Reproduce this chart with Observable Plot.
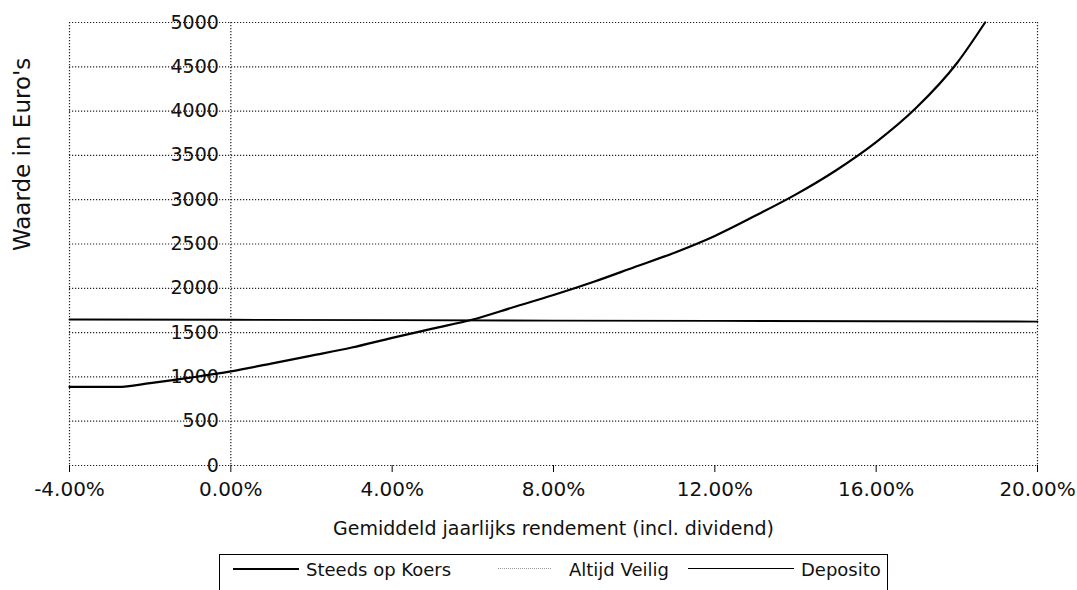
<!DOCTYPE html>
<html><head><meta charset="utf-8">
<script src="https://cdn.jsdelivr.net/npm/d3@7"></script>
<script src="https://cdn.jsdelivr.net/npm/@observablehq/plot@0.6"></script>
<style>
body{margin:0;background:#fff;font-family:"DejaVu Sans",sans-serif;}
#wrap{position:relative;width:1077px;height:590px;overflow:hidden;background:#fff;}
#legend{position:absolute;left:219px;top:554px;width:669px;height:50px;border:1.5px solid #000;box-sizing:border-box;font-size:18px;color:#111;}
.sample{position:absolute;top:13px;height:0;}
.label{position:absolute;top:5px;white-space:nowrap;line-height:20px;}
</style></head><body>
<div id="wrap"><div id="chart"></div><div id="legend"></div></div>
<script>
// Steeds op Koers: rendement (%) -> waarde (euro)
const rendement = [-4, -2.8, -2, -1, 0, 1, 2, 3, 4, 5, 6, 7, 8, 9, 10, 11, 12, 13, 14, 15, 16, 17, 18, 18.7];
const steedsOpKoers = [887, 887, 930, 992, 1062, 1150, 1240, 1332, 1441, 1545, 1648, 1786, 1924, 2074, 2238, 2402, 2591, 2818, 3057, 3330, 3650, 4040, 4540, 5000];
// Deposito
const depositoRendement = [-4, 0, 4, 8, 12, 16, 20];
const deposito = [1648, 1645, 1640, 1635, 1632, 1628, 1625];
// ticks and labels
const yTicks = [0, 500, 1000, 1500, 2000, 2500, 3000, 3500, 4000, 4500, 5000];
const xTicks = [-4, 0, 4, 8, 12, 16, 20];
const seriesNames = ["Steeds op Koers", "Altijd Veilig", "Deposito"];
const xTitle = "Gemiddeld jaarlijks rendement (incl. dividend)";
const yTitle = "Waarde in Euro's";

const koers = rendement.map((x, i) => ({x, y: steedsOpKoers[i]}));
const dep = depositoRendement.map((x, i) => ({x, y: deposito[i]}));

const chart = Plot.plot({
  width: 1077, height: 548,
  marginLeft: 69, marginRight: 40, marginTop: 22, marginBottom: 83,
  style: {fontFamily: "DejaVu Sans, sans-serif", background: "#fff", color: "#000"},
  x: {domain: [-4, 20], axis: null},
  y: {domain: [0, 5000], axis: null},
  marks: [
    Plot.ruleY(yTicks, {stroke: "#222", strokeWidth: 1.2, strokeDasharray: "1.2,1.8"}),
    Plot.ruleX([-4, 0, 20], {stroke: "#222", strokeWidth: 1.2, strokeDasharray: "1.2,1.8"}),
    Plot.text(yTicks, {x: 0, y: d => d, text: d => String(d), textAnchor: "end", dx: -12, fontSize: 19, fill: "#111"}),
    Plot.axisX(xTicks, {tickSize: 7, tickPadding: 9, fontSize: 20, tickFormat: d => d.toFixed(2) + "%", label: null, stroke: "#000", fill: "#111"}),
    Plot.line(dep, {x: "x", y: "y", stroke: "#000", strokeWidth: 1.8}),
    Plot.line(koers, {x: "x", y: "y", stroke: "#000", strokeWidth: 2.2, curve: "monotone-x"}),
    Plot.text([xTitle], {frameAnchor: "bottom", dy: 69, fontSize: 19, fill: "#111"}),
    Plot.text([yTitle], {frameAnchor: "left", rotate: -90, dx: -47, dy: 7, fontSize: 23, fill: "#111"})
  ]
});
document.getElementById("chart").appendChild(chart);

// legend
const legend = document.getElementById("legend");
const legendLayout = [
  {sx: 13, sw: 66, border: "2.5px solid #000", tx: 86},
  {sx: 278, sw: 53, border: "1px dotted #999", tx: 349},
  {sx: 468, sw: 106, border: "1.5px solid #000", tx: 581}
];
seriesNames.forEach((name, i) => {
  const L = legendLayout[i];
  const s = document.createElement("div");
  s.className = "sample";
  s.style.left = L.sx + "px"; s.style.width = L.sw + "px"; s.style.borderTop = L.border;
  legend.appendChild(s);
  const t = document.createElement("div");
  t.className = "label";
  t.style.left = L.tx + "px";
  t.textContent = name;
  legend.appendChild(t);
});
</script>
</body></html>
